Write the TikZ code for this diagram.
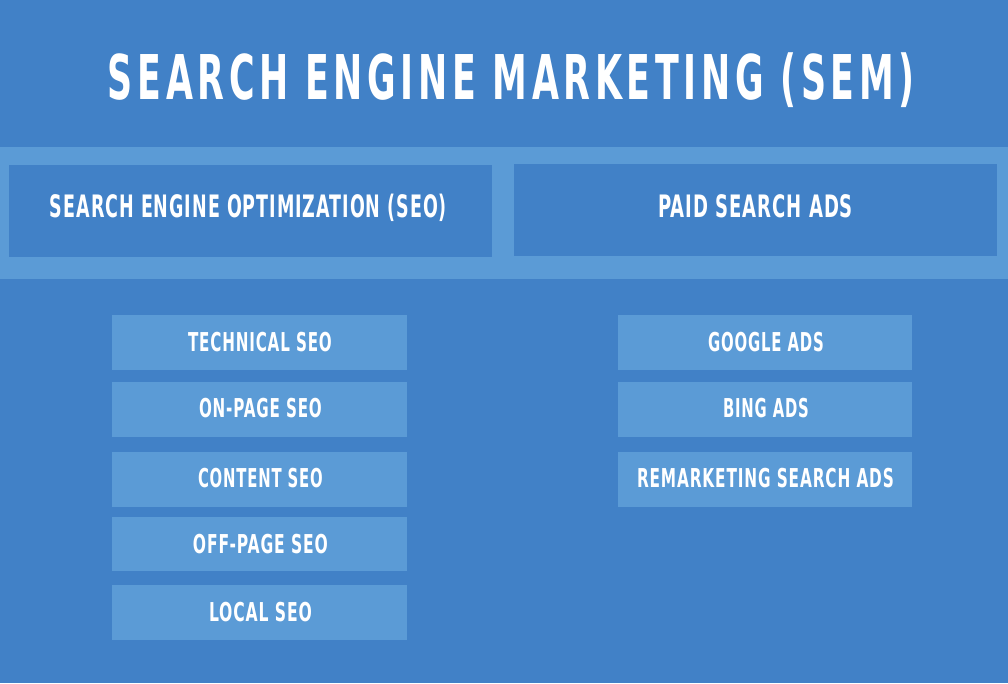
\documentclass[tikz,border=0pt]{standalone}
\usepackage{fontspec}
\usepackage{graphicx}
\newfontfamily\hdfont{DejaVu Sans Condensed Bold}
\newfontfamily\hdfontwide{DejaVu Sans Condensed Bold}[LetterSpace=12]
\newfontfamily\hdfontmid{DejaVu Sans Condensed Bold}[LetterSpace=5]
\definecolor{bgblue}{RGB}{65,129,199}
\definecolor{ltblue}{RGB}{91,155,214}
% #1 = target width (pt), #2 = font size (pt), #3 = text
\newcommand\fitlabel[3]{\resizebox{#1pt}{\height}{\fontsize{#2}{#2}\hdfontmid #3\kern-0.05em}}
\newcommand\fittitle[3]{\resizebox{#1pt}{\height}{\fontsize{#2}{#2}\hdfontwide #3\kern-0.12em}}
\tikzset{
  txt/.style={anchor=base, inner sep=0pt, outer sep=0pt, text=white},
  headbox/.style={fill=bgblue, draw=none, inner sep=0pt, anchor=north west},
  itembox/.style={fill=ltblue, draw=none, inner sep=0pt, anchor=north west},
}
\begin{document}
\begin{tikzpicture}[x=1pt,y=-1pt]
\useasboundingbox (0,0) rectangle (1008,683);
\fill[bgblue] (0,0) rectangle (1008,683);
\fill[ltblue] (0,147) rectangle (1008,279);

% title
\node[txt] (title) at (509,99) {\fittitle{802}{61.7}{SEARCH ENGINE MARKETING (SEM)}};

% header boxes
\node[headbox, minimum width=483pt, minimum height=92pt] (seo) at (9,165) {};
\node[headbox, minimum width=483pt, minimum height=92pt] (paid) at (514,164) {};
\node[txt] (seot) at (248,217) {\fitlabel{396}{30.9}{SEARCH ENGINE OPTIMIZATION (SEO)}};
\node[txt] (paidt) at (755,217) {\fitlabel{194}{30.9}{PAID SEARCH ADS}};

% left items
\node[itembox, minimum width=295pt, minimum height=55pt] (l1) at (112,315) {};
\node[itembox, minimum width=295pt, minimum height=55pt] (l2) at (112,382) {};
\node[itembox, minimum width=295pt, minimum height=55pt] (l3) at (112,452) {};
\node[itembox, minimum width=295pt, minimum height=54pt] (l4) at (112,517) {};
\node[itembox, minimum width=295pt, minimum height=55pt] (l5) at (112,585) {};
\node[txt] (l1t) at (259.5,351) {\fitlabel{143}{26}{TECHNICAL SEO}};
\node[txt] (l2t) at (260,417) {\fitlabel{122}{26}{ON-PAGE SEO}};
\node[txt] (l3t) at (260,487) {\fitlabel{124}{26}{CONTENT SEO}};
\node[txt] (l4t) at (260,553) {\fitlabel{134}{26}{OFF-PAGE SEO}};
\node[txt] (l5t) at (260,621) {\fitlabel{102}{26}{LOCAL SEO}};

% right items
\node[itembox, minimum width=294pt, minimum height=55pt] (r1) at (618,315) {};
\node[itembox, minimum width=294pt, minimum height=55pt] (r2) at (618,382) {};
\node[itembox, minimum width=294pt, minimum height=55pt] (r3) at (618,452) {};
\node[txt] (r1t) at (765.5,351) {\fitlabel{115}{26}{GOOGLE ADS}};
\node[txt] (r2t) at (765.5,417) {\fitlabel{85}{26}{BING ADS}};
\node[txt] (r3t) at (765,487) {\fitlabel{256}{26}{REMARKETING SEARCH ADS}};
\end{tikzpicture}
\end{document}
